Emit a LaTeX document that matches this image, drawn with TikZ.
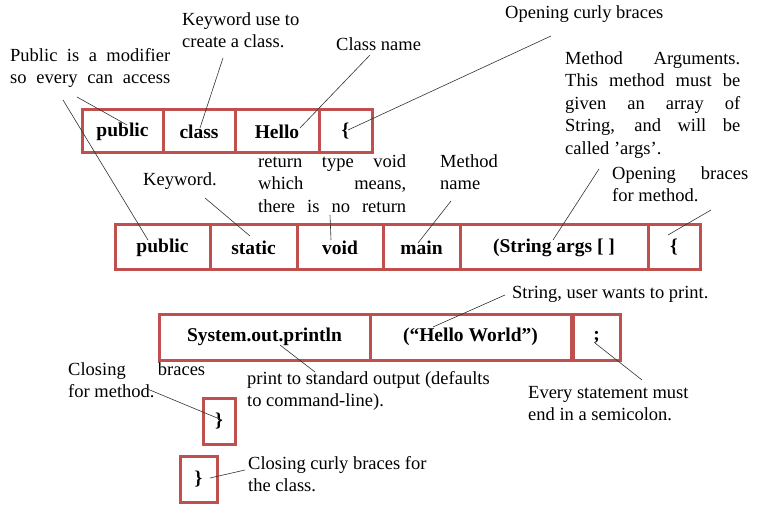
\documentclass[tikz,border=0pt]{standalone}
\usepackage{fontspec}
\setmainfont{Liberation Serif}
\definecolor{boxred}{HTML}{C0504D}
\newcommand{\jl}[2]{\makebox[#1pt][s]{#2}}
\begin{document}
\begin{tikzpicture}[x=1pt,y=-1pt,
  box/.style={draw=boxred,line width=3pt,inner sep=0pt,font=\fontsize{19.5}{22}\selectfont\bfseries},
  lab/.style={anchor=north west,inner sep=0pt,font=\fontsize{18.5}{22.5}\selectfont,align=left},
  con/.style={draw=black!80,line width=0.6pt}]
\useasboundingbox[fill=white] (0,0) rectangle (774,505);
% row 1
\node[box,minimum width=81pt,minimum height=43pt] (r1a) at (122.5,131.5) {public};
\node[box,minimum width=72pt,minimum height=43pt] (r1b) at (199,131.5) {class};
\node[box,minimum width=84pt,minimum height=43pt] (r1c) at (277,131.5) {Hello};
\node[box,minimum width=53pt,minimum height=43pt] (r1d) at (345.5,131.5) {\{};
% row 2
\node[box,minimum width=95pt,minimum height=45pt] (r2a) at (162.5,247.5) {public};
\node[box,minimum width=87pt,minimum height=45pt] (r2b) at (253.5,247.5) {static};
\node[box,minimum width=86pt,minimum height=45pt] (r2c) at (340,247.5) {void};
\node[box,minimum width=77pt,minimum height=45pt] (r2d) at (421.5,247.5) {main};
\node[box,minimum width=188pt,minimum height=45pt] (r2e) at (554,247.5) {(String args [ ]};
\node[box,minimum width=52pt,minimum height=45pt] (r2f) at (674,247.5) {\{};
% row 3
\node[box,minimum width=211pt,minimum height=46pt] (r3a) at (264.5,337) {System.out.println};
\node[box,minimum width=201pt,minimum height=46pt] (r3b) at (470.5,337) {(“Hello World”)};
\node[box,minimum width=47pt,minimum height=46pt] (r3c) at (596.5,337) {;};
% closing braces
\node[box,minimum width=32pt,minimum height=46pt] (cm) at (219,421) {\}};
\node[box,minimum width=37pt,minimum height=46pt] (cc) at (198.5,479) {\}};
% labels
\node[lab] (l1) at (10,48) {\jl{160}{Public is a modifier}\\\jl{160}{so every can access}};
\node[lab] (l2) at (182,12) {Keyword use to\\create a class.};
\node[lab] (l3) at (336,37) {Class name};
\node[lab] (l4) at (505,5) {Opening curly braces};
\node[lab] (l5) at (565,51) {\jl{175}{Method Arguments.}\\\jl{175}{This method must be}\\\jl{175}{given an array of}\\\jl{175}{String, and will be}\\called ’args’.};
\node[lab] (l6) at (612,166) {\jl{136}{Opening braces}\\for method.};
\node[lab] (l7) at (258,154) {\jl{148}{return type void}\\\jl{148}{which means,}\\\jl{148}{there is no return}};
\node[lab] (l8) at (143,172) {Keyword.};
\node[lab] (l9) at (440,154) {Method\\name};
\node[lab] (l10) at (512,286) {String, user wants to print.};
\node[lab] (l11) at (68,362) {\jl{137}{Closing braces}\\for method.};
\node[lab] (l12) at (247,371) {print to standard output (defaults\\to command-line).};
\node[lab] (l13) at (528,386) {Every statement must\\end in a semicolon.};
\node[lab] (l14) at (248,456) {Closing curly braces for\\the class.};
% connector end points
\coordinate (a1) at (77,97); \coordinate (a2) at (127,125);
\coordinate (b1) at (63,100); \coordinate (b2) at (148,240);
\coordinate (c1) at (223,58); \coordinate (c2) at (200,128);
\coordinate (d1) at (370,55); \coordinate (d2) at (300,128);
\coordinate (e1) at (551,36); \coordinate (e2) at (348,130);
\coordinate (f1) at (205,198); \coordinate (f2) at (250,236);
\coordinate (g1) at (330,215); \coordinate (g2) at (331,240);
\coordinate (h1) at (451,201); \coordinate (h2) at (418,243);
\coordinate (i1) at (599,169); \coordinate (i2) at (553,240);
\coordinate (j1) at (711,210); \coordinate (j2) at (668,235);
\coordinate (k1) at (505,295); \coordinate (k2) at (433,327);
\coordinate (m1) at (280,345); \coordinate (m2) at (315,372);
\coordinate (n1) at (595,343); \coordinate (n2) at (642,380);
\coordinate (o1) at (145,388); \coordinate (o2) at (222,420);
\coordinate (q1) at (245,470); \coordinate (q2) at (210,478);
\foreach \s in {a,b,c,d,e,f,g,h,i,j,k,m,n,o,q}{\draw[con] (\s1) -- (\s2);}
\end{tikzpicture}
\end{document}
